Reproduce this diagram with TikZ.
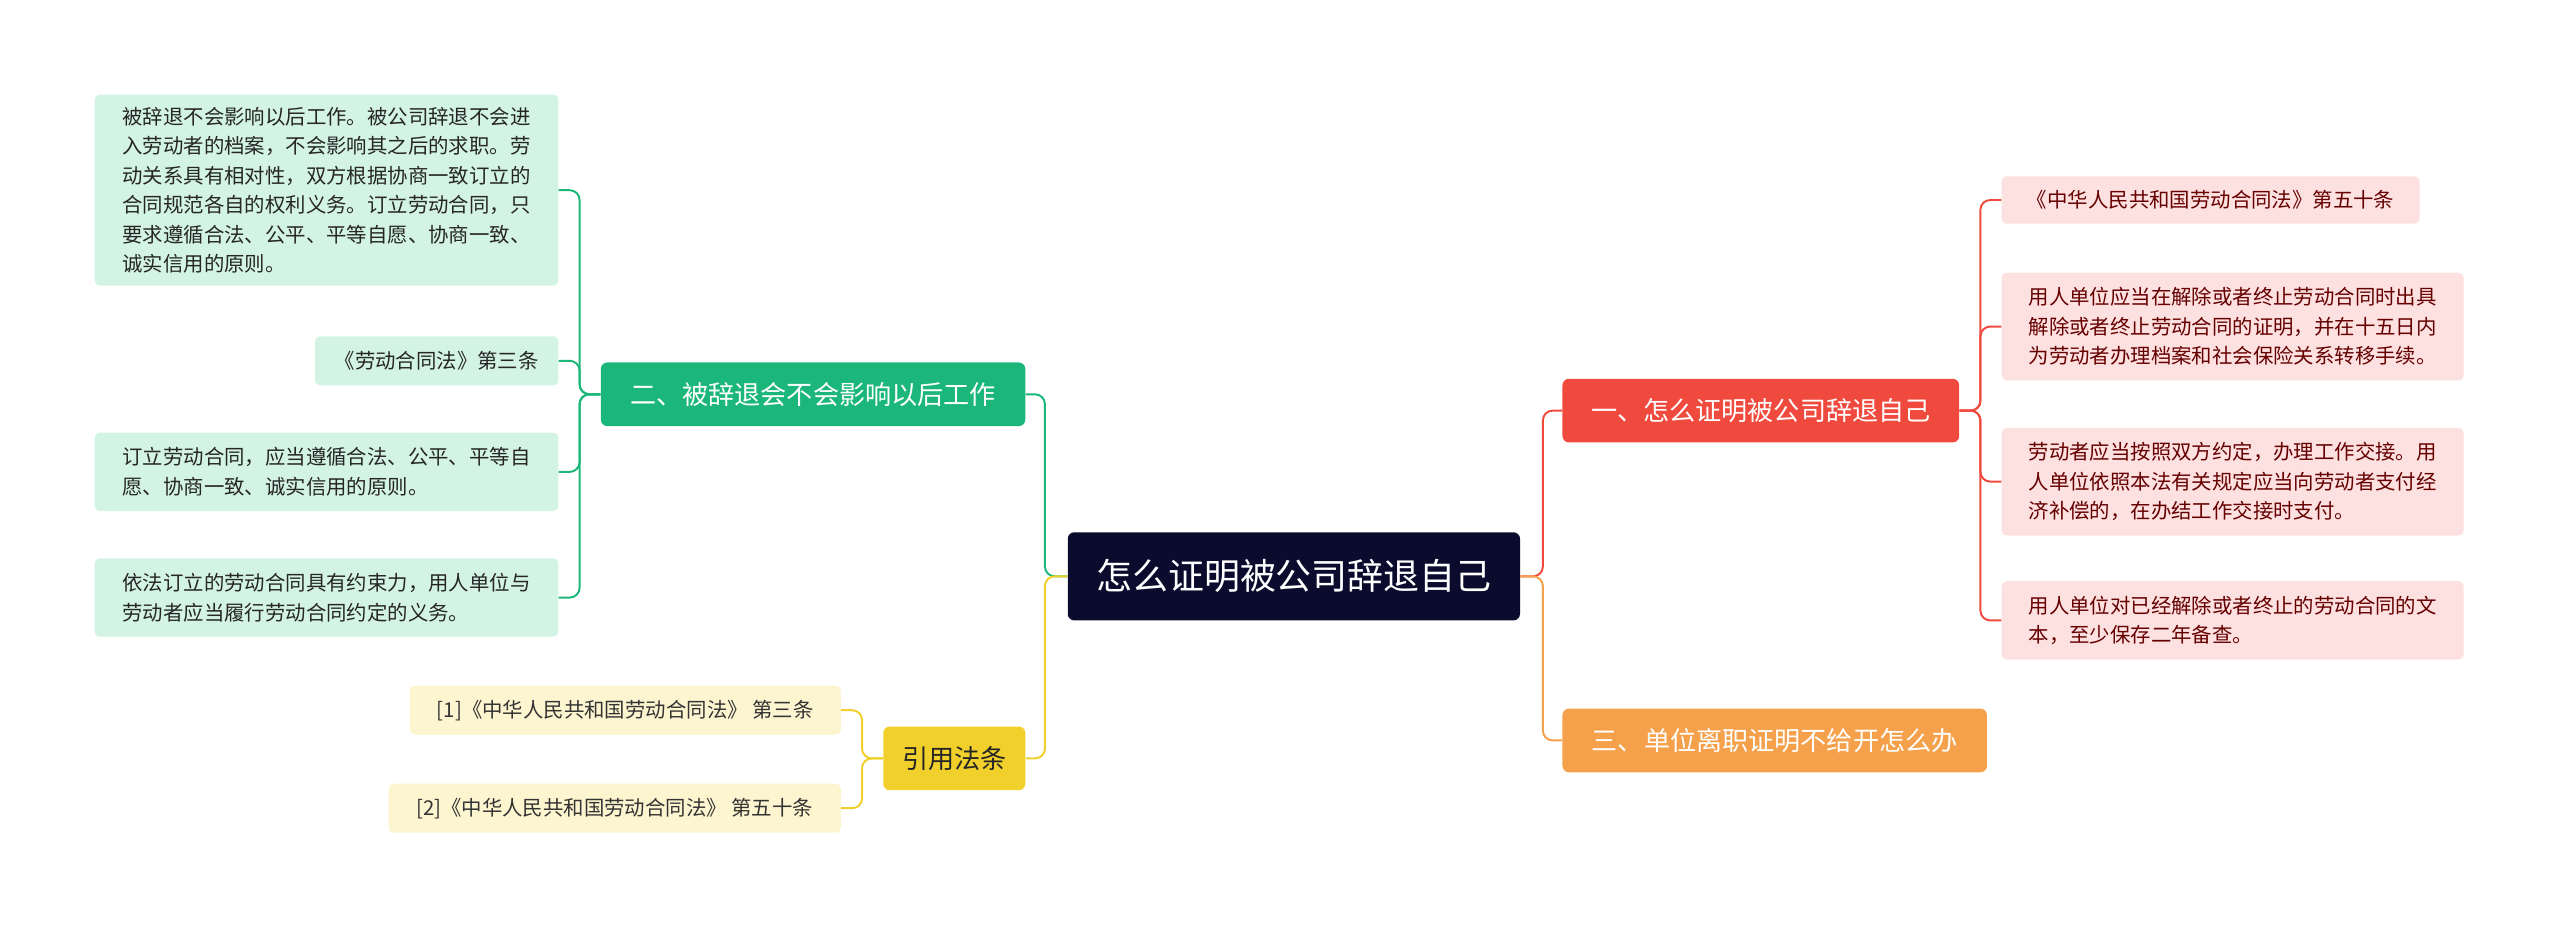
\documentclass[tikz,border=0pt]{standalone}
\usepackage{fontspec}
\setmainfont{Noto Sans CJK SC}
\begin{document}
\begin{tikzpicture}[x=1pt,y=-1pt,
 box/.style={rounded corners=3pt,inner sep=0pt,align=left,font=\fontsize{12.5}{18}\selectfont},
 big/.style={rounded corners=4pt,inner sep=0pt,font=\fontsize{16}{20}\selectfont},
 lk/.style={line width=1.2pt,rounded corners=6pt}]
\definecolor{navy}{HTML}{0B0B2E}
\definecolor{cred}{HTML}{F04A3E}
\definecolor{corg}{HTML}{F5A04A}
\definecolor{cgrn}{HTML}{1BB77A}
\definecolor{cyel}{HTML}{F2D02B}
\definecolor{fpink}{HTML}{FDE0E0}
\definecolor{fgrn}{HTML}{D3F3E5}
\definecolor{fyel}{HTML}{FDF5D0}
\useasboundingbox (0,0) rectangle (1568,568);
\node[big,fill=navy,text=white,minimum width=277,minimum height=54,font=\fontsize{22}{26}\selectfont] (root) at (792.5,353) {怎么证明被公司辞退自己};
\node[big,fill=cred,text=white,minimum width=243,minimum height=39] (r1) at (1078.5,251.5) {一、怎么证明被公司辞退自己};
\node[big,fill=corg,text=white,minimum width=260,minimum height=39] (r2) at (1087,453.5) {三、单位离职证明不给开怎么办};
\node[big,fill=cgrn,text=white,minimum width=260,minimum height=39] (l1) at (498,241.5) {二、被辞退会不会影响以后工作};
\node[big,fill=cyel,text=black!85,minimum width=87,minimum height=39] (l2) at (584.5,464.5) {引用法条};
\begin{scope}[every node/.append style={box,fill=fpink,text=red!40!black}]
\node[minimum width=256,minimum height=29] (ra) at (1354,122.5) {《中华人民共和国劳动合同法》第五十条};
\node[minimum width=283,minimum height=66] (rb) at (1367.5,200) {用人单位应当在解除或者终止劳动合同时出具\\解除或者终止劳动合同的证明，并在十五日内\\为劳动者办理档案和社会保险关系转移手续。};
\node[minimum width=283,minimum height=66] (rc) at (1367.5,295) {劳动者应当按照双方约定，办理工作交接。用\\人单位依照本法有关规定应当向劳动者支付经\\济补偿的，在办结工作交接时支付。};
\node[minimum width=283,minimum height=48] (rd) at (1367.5,380) {用人单位对已经解除或者终止的劳动合同的文\\本，至少保存二年备查。};
\end{scope}
\begin{scope}[every node/.append style={box,fill=fgrn,text=black!85}]
\node[minimum width=284,minimum height=117] (la) at (200,116.5) {被辞退不会影响以后工作。被公司辞退不会进\\入劳动者的档案，不会影响其之后的求职。劳\\动关系具有相对性，双方根据协商一致订立的\\合同规范各自的权利义务。订立劳动合同，只\\要求遵循合法、公平、平等自愿、协商一致、\\诚实信用的原则。};
\node[minimum width=149,minimum height=30] (lb) at (267.5,221) {《劳动合同法》第三条};
\node[minimum width=284,minimum height=48] (lc) at (200,289) {订立劳动合同，应当遵循合法、公平、平等自\\愿、协商一致、诚实信用的原则。};
\node[minimum width=284,minimum height=48] (ld) at (200,366) {依法订立的劳动合同具有约束力，用人单位与\\劳动者应当履行劳动合同约定的义务。};
\end{scope}
\begin{scope}[every node/.append style={box,fill=fyel,text=black!80}]
\node[minimum width=264,minimum height=30] (ya) at (383,435) {[1]《中华人民共和国劳动合同法》 第三条};
\node[minimum width=277,minimum height=30] (yb) at (376.5,495) {[2]《中华人民共和国劳动合同法》 第五十条};
\end{scope}
% connectors
\draw[lk,cred] (root.east) -- (945,353) |- (r1.west);
\draw[lk,corg] (root.east) -- (945,353) |- (r2.west);
\draw[lk,cgrn] (root.west) -- (640,353) |- (l1.east);
\draw[lk,cyel] (root.west) -- (640,353) |- (l2.east);
\foreach \n in {ra,rb,rc,rd} \draw[lk,cred] (r1.east) -- (1213,251.5) |- (\n.west);
\foreach \n in {la,lb,lc,ld} \draw[lk,cgrn] (l1.west) -- (355,241.5) |- (\n.east);
\foreach \n in {ya,yb} \draw[lk,cyel] (l2.west) -- (528,464.5) |- (\n.east);
\end{tikzpicture}
\end{document}
